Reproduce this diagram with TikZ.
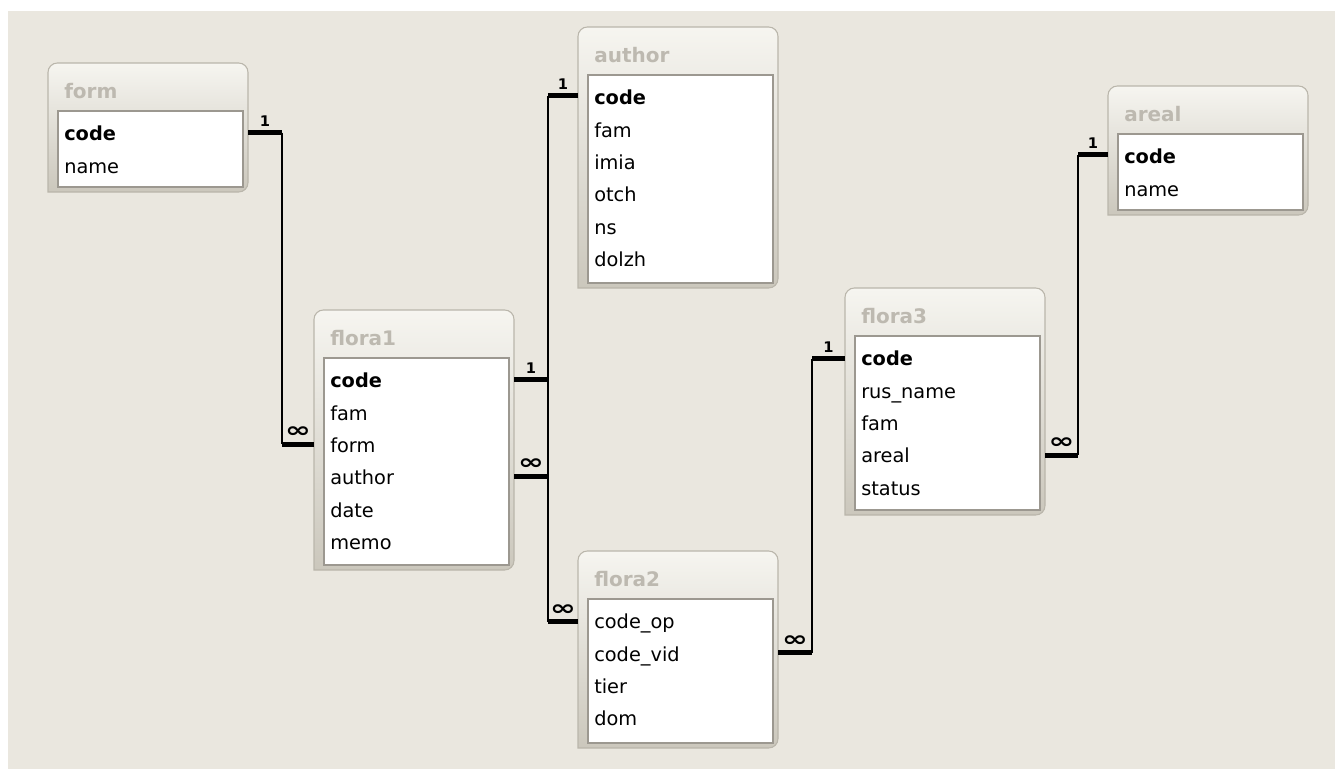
\documentclass[tikz,border=0pt]{standalone}
\usepackage{fontspec}
\setmainfont{DejaVu Sans}
\usetikzlibrary{calc}

\definecolor{canvas}{HTML}{EAE7DF}
\definecolor{frametop}{HTML}{F6F5F0}
\definecolor{framebot}{HTML}{CBC7BC}
\definecolor{frameline}{HTML}{BAB6AB}
\definecolor{titletext}{HTML}{BDB9B0}
\definecolor{listline}{HTML}{9C9890}

\newcommand*{\many}{{\fontsize{16}{16}\selectfont\scalebox{1.45}[1]{∞}}}

% #1 name, #2 left, #3 top, #4 height, #5 title, #6 fields
\newcommand{\dbtable}[6]{%
	\node[tablebox, minimum height=#4*0.75pt] (#1) at (#2,#3) {};
	\draw[tableframe] (#1.south west) [rounded corners=7pt] -- (#1.north west) -- (#1.north east) -- (#1.south east) [sharp corners] -- cycle;
	\node[tabletitle] (#1-title) at ($(#1.north west)+(16,28)$) {#5};
	\draw[listbox] ($(#1.north west)+(10,48)$) rectangle ($(#1.south east)+(-5,-5)$);
	\foreach \n/\t [count=\i] in {#6}
		\node[field] (#1-\n) at ($(#1.north west)+(16,{72.5+32.3*(\i-1)})$) {\t};
}

\begin{document}
\begin{tikzpicture}
[
	x=0.75pt, y=-0.75pt,
	tablebox/.style={rectangle, anchor=north west, minimum width=150pt, inner sep=0pt, outer sep=0pt},
	tableframe/.style={draw=frameline, line width=0.8pt, top color=frametop, bottom color=framebot},
	tabletitle/.style={anchor=west, inner sep=0pt, text=titletext, font=\bfseries\fontsize{15}{17}\selectfont},
	listbox/.style={draw=listline, fill=white, line width=0.8pt},
	field/.style={anchor=west, inner sep=0pt, text height=11pt, text depth=3pt, font=\fontsize{14.5}{17}\selectfont},
	link/.style={line width=1.5pt},
	bar/.style={line width=3.75pt},
	card/.style={above=3pt, inner sep=0pt, font=\bfseries\fontsize{11}{11}\selectfont}
]

	% canvas
	\useasboundingbox (0,0) rectangle (1335,769);
	\fill[white] (0,0) rectangle (1335,769);
	\fill[canvas] (8,11) rectangle (1335,769);

	% tables
	\dbtable{form}{48}{63}{129}{form}{code/\textbf{code}, name/name}
	\dbtable{author}{578}{27}{261}{author}{code/\textbf{code}, fam/fam, imia/imia, otch/otch, ns/ns, dolzh/dolzh}
	\dbtable{areal}{1108}{86}{129}{areal}{code/\textbf{code}, name/name}
	\dbtable{flora1}{314}{310}{260}{flora1}{code/\textbf{code}, fam/fam, form/form, author/author, date/date, memo/memo}
	\dbtable{flora3}{845}{288}{227}{flora3}{code/\textbf{code}, rusname/rus\_name, fam/fam, areal/areal, status/status}
	\dbtable{flora2}{578}{551}{197}{flora2}{codeop/code\_op, codevid/code\_vid, tier/tier, dom/dom}

	% form.code -- flora1.form
	\coordinate (r1s) at ($(form-code -| form.east)+(0,-3)$);
	\coordinate (r1e) at ($(flora1-form -| flora1.west)+(0,-3)$);
	\draw[bar] (r1s) -- ++(34,0) coordinate (r1a) node[midway, card] (r1one) {1};
	\draw[bar] (r1e) -- (r1e -| r1a) coordinate (r1b) node[midway, card] (r1many) {\many};
	\draw[link] (r1a) -- (r1b);

	% author.code -- flora1.author
	\coordinate (r2s) at ($(author-code -| author.west)+(0,-4)$);
	\coordinate (r2e) at ($(flora1-author -| flora1.east)+(0,-3)$);
	\draw[bar] (r2s) -- ++(-30,0) coordinate (r2a) node[midway, card] (r2one) {1};
	\draw[bar] (r2e) -- (r2e -| r2a) coordinate (r2b) node[midway, card] (r2many) {\many};
	\draw[link] (r2a) -- (r2b);

	% flora1.code -- flora2.code_op
	\coordinate (r3s) at ($(flora1-code -| flora1.east)+(0,-3)$);
	\coordinate (r3e) at ($(flora2-codeop -| flora2.west)+(0,-2)$);
	\draw[bar] (r3s) -- ++(34,0) coordinate (r3a) node[midway, card] (r3one) {1};
	\draw[bar] (r3e) -- (r3e -| r3a) coordinate (r3b) node[midway, card] (r3many) {\many};
	\draw[link] (r3a) -- (r3b);

	% flora3.code -- flora2.code_vid
	\coordinate (r4s) at ($(flora3-code -| flora3.west)+(0,-2)$);
	\coordinate (r4e) at ($(flora2-codevid -| flora2.east)+(0,-3)$);
	\draw[bar] (r4s) -- ++(-33,0) coordinate (r4a) node[midway, card] (r4one) {1};
	\draw[bar] (r4e) -- (r4e -| r4a) coordinate (r4b) node[midway, card] (r4many) {\many};
	\draw[link] (r4a) -- (r4b);

	% areal.code -- flora3.areal
	\coordinate (r5s) at ($(areal-code -| areal.west)+(0,-4)$);
	\coordinate (r5e) at ($(flora3-areal -| flora3.east)+(0,-2)$);
	\draw[bar] (r5s) -- ++(-30,0) coordinate (r5a) node[midway, card] (r5one) {1};
	\draw[bar] (r5e) -- (r5e -| r5a) coordinate (r5b) node[midway, card] (r5many) {\many};
	\draw[link] (r5a) -- (r5b);

\end{tikzpicture}
\end{document}
